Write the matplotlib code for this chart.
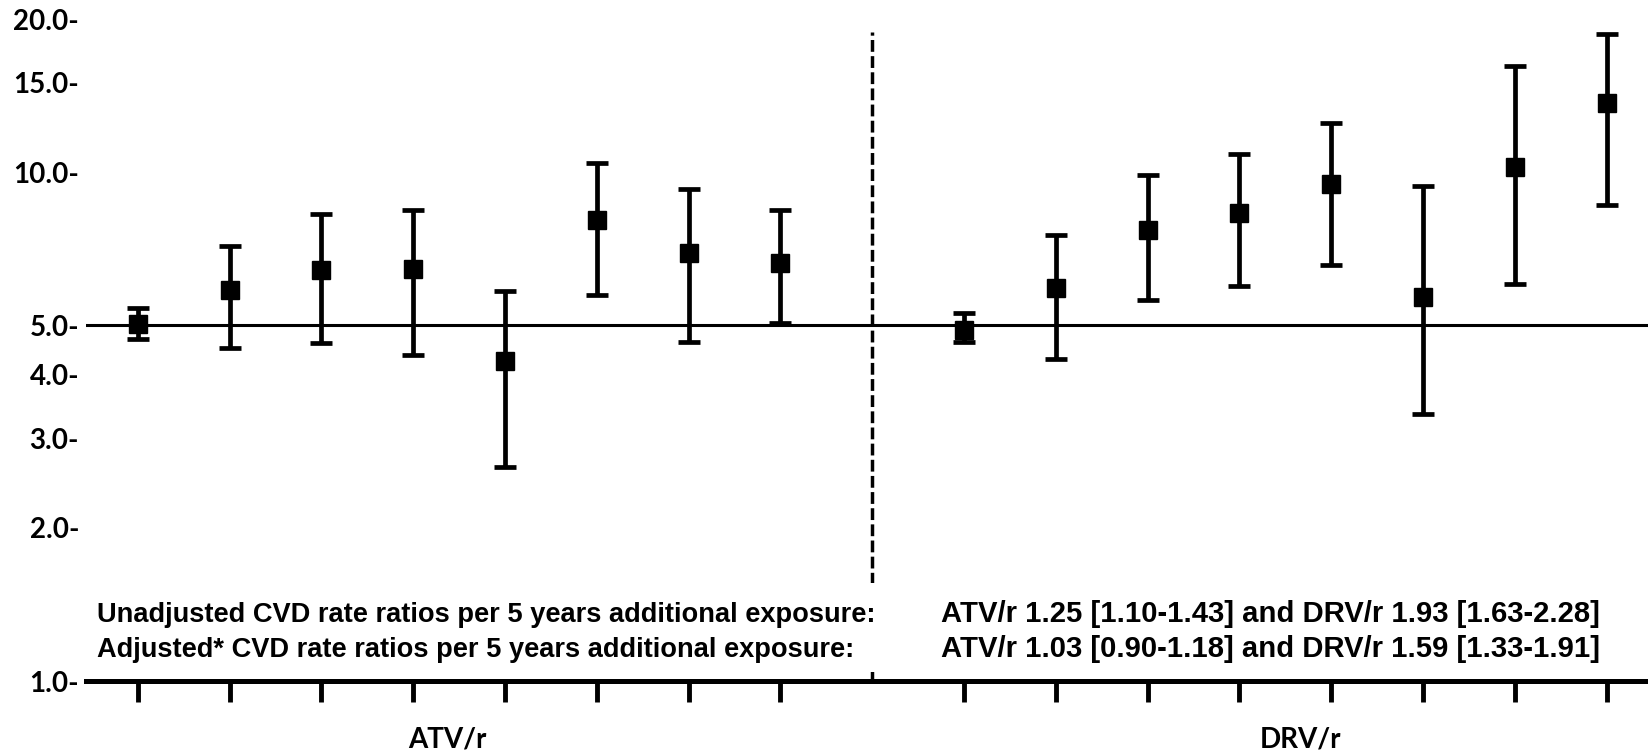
import matplotlib.pyplot as plt
from matplotlib.patches import Rectangle
from matplotlib.transforms import blended_transform_factory

# Rate ratio estimates with 95% CI
atv_est = [5.04, 5.87, 6.43, 6.45, 4.25, 8.04, 6.93, 6.64]
atv_low = [4.69, 4.52, 4.61, 4.37, 2.63, 5.73, 4.63, 5.06]
atv_high = [5.41, 7.17, 8.27, 8.43, 5.84, 10.44, 9.27, 8.43]

drv_est = [4.90, 5.93, 7.70, 8.31, 9.49, 5.68, 10.24, 13.69]
drv_low = [4.63, 4.29, 5.62, 5.98, 6.58, 3.35, 6.04, 8.63]
drv_high = [5.29, 7.52, 9.86, 10.84, 12.51, 9.40, 16.17, 18.66]

atv_x = [1, 2, 3, 4, 5, 6, 7, 8]
drv_x = [10, 11, 12, 13, 14, 15, 16, 17]

yticks = [1, 2, 3, 4, 5, 10, 15, 20]
ytick_labels = ['1.0-', '2.0-', '3.0-', '4.0-', '5.0-', '10.0-', '15.0-', '20.0-']

line1_left = 'Unadjusted CVD rate ratios per 5 years additional exposure:'
line1_right = 'ATV/r 1.25 [1.10-1.43] and DRV/r 1.93 [1.63-2.28]'
line2_left = 'Adjusted* CVD rate ratios per 5 years additional exposure:'
line2_right = 'ATV/r 1.03 [0.90-1.18] and DRV/r 1.59 [1.33-1.91]'

fig = plt.figure(figsize=(16.48, 7.54), dpi=100)
ax = fig.add_axes([0.0522, 0.0968, 0.9478, 0.878])

ax.set_yscale('log')
ax.set_ylim(1, 20)
ax.set_xlim(0.437, 17.45)

# reference line and group divider (divider is hidden behind the text block)
ax.axhline(5, color='black', linewidth=2.2, zorder=1)
ax.axvline(9, ymin=0, ymax=0.98, color='black', linewidth=2.5,
           linestyle=(0, (3.4, 1.25)), zorder=1)
ax.add_patch(Rectangle((8.7, 0.014), 0.6, 0.134, facecolor='white', edgecolor='none',
                       transform=blended_transform_factory(ax.transData, ax.transAxes),
                       zorder=2))

for xs, est, lo, hi in [(atv_x, atv_est, atv_low, atv_high),
                        (drv_x, drv_est, drv_low, drv_high)]:
    err = [[e - l for e, l in zip(est, lo)], [h - e for e, h in zip(est, hi)]]
    ax.errorbar(xs, est, yerr=err, fmt='s', color='black', markersize=13,
                elinewidth=3.4, capsize=8, capthick=3.4, zorder=3)

# axes styling
for side in ['left', 'right', 'top']:
    ax.spines[side].set_visible(False)
ax.spines['bottom'].set_linewidth(3.6)

ax.set_yticks(yticks)
ax.set_yticklabels(ytick_labels)
ax.minorticks_off()
ax.tick_params(axis='y', length=0, pad=5)
for lab in ax.get_yticklabels():
    lab.set_fontfamily('Lato')
    lab.set_fontweight('bold')
    lab.set_fontsize(20)

ax.set_xticks(atv_x + drv_x)
ax.set_xticklabels([])
ax.tick_params(axis='x', direction='out', length=15, width=3.5)

# group labels
trans = blended_transform_factory(ax.transData, fig.transFigure)
ax.text(4.37, 0.009, 'ATV/r', transform=trans, ha='center', va='baseline',
        fontfamily='Lato', fontweight='bold', fontsize=20)
ax.text(13.66, 0.009, 'DRV/r', transform=trans, ha='center', va='baseline',
        fontfamily='Lato', fontweight='bold', fontsize=20)

# summary text
tkw = dict(fontfamily='Liberation Sans', fontweight='bold', va='baseline', zorder=5)
fig.text(0.0589, 0.175, line1_left, fontsize=19.6, **tkw)
fig.text(0.0589, 0.129, line2_left, fontsize=19.6, **tkw)
fig.text(0.571, 0.175, line1_right, fontsize=21.1, **tkw)
fig.text(0.571, 0.129, line2_right, fontsize=21.1, **tkw)

fig.savefig('out.png', dpi=100)
